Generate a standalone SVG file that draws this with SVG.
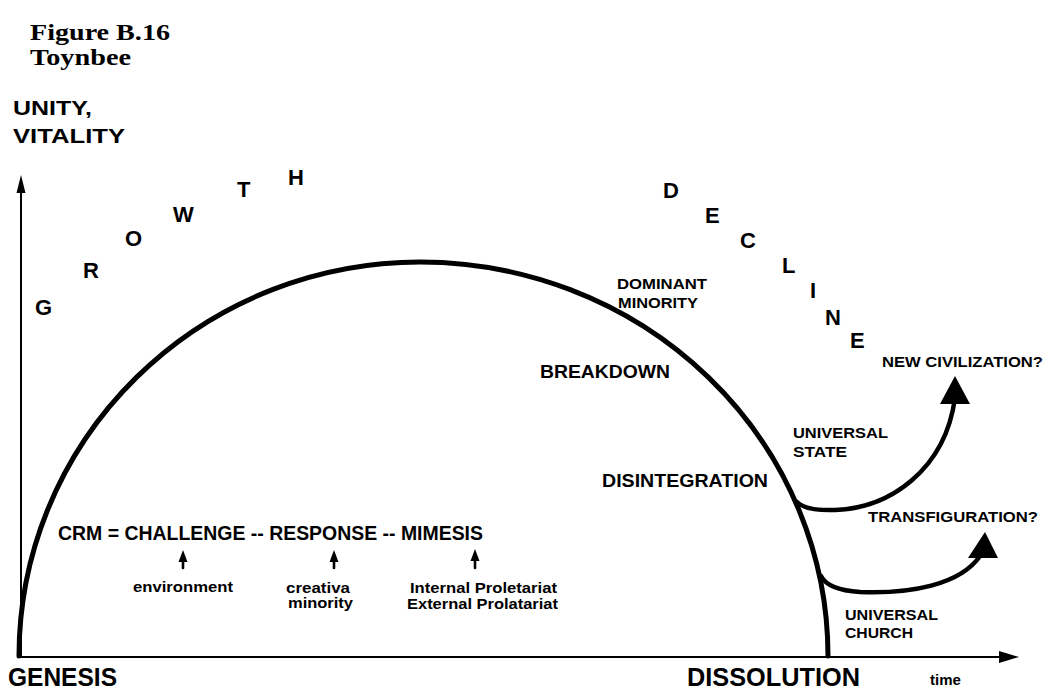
<svg xmlns="http://www.w3.org/2000/svg" width="1045" height="689" viewBox="0 0 1045 689">
<style>
.s{font-family:"Liberation Sans",Arial,sans-serif;font-weight:bold;fill:#000}
.t{font-family:"Liberation Serif","Times New Roman",serif;font-weight:bold;fill:#000}
.big{font-size:22px}
.lab{font-size:15.5px}
.sm{font-size:14px}
.ln{fill:none;stroke:#000;stroke-linecap:round;stroke-linejoin:round}
.sub{stroke-width:2.6}
</style>
<rect width="1045" height="689" fill="#fff"/>

<g id="title">
<text class="t" x="30" y="40" font-size="24" textLength="140" lengthAdjust="spacingAndGlyphs">Figure B.16</text>
<text class="t" x="30" y="65" font-size="24" textLength="101" lengthAdjust="spacingAndGlyphs">Toynbee</text>
</g>

<g id="axes">
<line class="ln" x1="21" y1="657" x2="21" y2="190" stroke-width="2"/>
<polygon points="21,175 16.5,193 25.5,193" fill="#000"/>
<line class="ln" x1="18" y1="657" x2="1004" y2="657" stroke-width="2"/>
<polygon points="1019,657 999,651 999,663" fill="#000"/>
</g>

<g id="y-label">
<text class="s" x="13" y="115" font-size="20" textLength="79" lengthAdjust="spacingAndGlyphs">UNITY,</text>
<text class="s" x="13" y="143" font-size="20" textLength="112" lengthAdjust="spacingAndGlyphs">VITALITY</text>
</g>

<g id="growth" class="s big">
<text x="35" y="315">G</text>
<text x="83" y="278">R</text>
<text x="125" y="246">O</text>
<text x="173" y="222">W</text>
<text x="237" y="197">T</text>
<text x="288" y="185">H</text>
</g>

<g id="decline" class="s big">
<text x="663" y="198">D</text>
<text x="705" y="223">E</text>
<text x="740" y="248">C</text>
<text x="782" y="273">L</text>
<text x="810" y="298">I</text>
<text x="825" y="325">N</text>
<text x="850" y="348">E</text>
</g>

<g id="connectors">
<path id="main-curve" class="ln" stroke-width="5" d="M19,656 A401,394 0 0 1 420,262 A408,394 0 0 1 828,656"/>
<path id="branch-state" class="ln" stroke-width="4.5" d="M797,502 Q806,511 835,510 C890,508 945,470 955,398"/>
<polygon points="955,376 940,404 970,404" fill="#000"/>
<path id="branch-church" class="ln" stroke-width="4.5" d="M821,576 Q828,590 860,592 C910,594 960,585 980,556"/>
<polygon points="985,532 968,558 998,558" fill="#000"/>
<g id="crm-arrows">
<line class="ln sub" x1="183" y1="568" x2="183" y2="557"/>
<polygon points="183,550 178.5,562 187.5,562" fill="#000"/>
<line class="ln sub" x1="334" y1="568" x2="334" y2="557"/>
<polygon points="334,550 329.5,562 338.5,562" fill="#000"/>
<line class="ln sub" x1="475" y1="568" x2="475" y2="557"/>
<polygon points="475,549 470.5,561 479.5,561" fill="#000"/>
</g>
</g>

<g id="genesis">
<text class="s" x="8" y="686" font-size="25" textLength="109" lengthAdjust="spacingAndGlyphs">GENESIS</text>
</g>
<g id="dissolution">
<text class="s" x="687" y="686" font-size="25" textLength="173" lengthAdjust="spacingAndGlyphs">DISSOLUTION</text>
</g>
<g id="time">
<text class="s" x="930" y="685" font-size="15">time</text>
</g>

<g id="dominant-minority" class="s lab">
<text x="617" y="289" textLength="90" lengthAdjust="spacingAndGlyphs">DOMINANT</text>
<text x="618" y="308" textLength="80" lengthAdjust="spacingAndGlyphs">MINORITY</text>
</g>
<g id="breakdown">
<text class="s" x="540" y="378" font-size="17.5" textLength="130" lengthAdjust="spacingAndGlyphs">BREAKDOWN</text>
</g>
<g id="disintegration">
<text class="s" x="602" y="487" font-size="18" textLength="166" lengthAdjust="spacingAndGlyphs">DISINTEGRATION</text>
</g>
<g id="universal-state" class="s lab">
<text x="793" y="438" textLength="95" lengthAdjust="spacingAndGlyphs">UNIVERSAL</text>
<text x="793" y="457" textLength="54" lengthAdjust="spacingAndGlyphs">STATE</text>
</g>
<g id="new-civilization">
<text class="s lab" x="882" y="367" textLength="161" lengthAdjust="spacingAndGlyphs">NEW CIVILIZATION?</text>
</g>
<g id="transfiguration">
<text class="s lab" x="868" y="522" textLength="170" lengthAdjust="spacingAndGlyphs">TRANSFIGURATION?</text>
</g>
<g id="universal-church" class="s lab">
<text x="845" y="620" textLength="93" lengthAdjust="spacingAndGlyphs">UNIVERSAL</text>
<text x="845" y="638" textLength="68" lengthAdjust="spacingAndGlyphs">CHURCH</text>
</g>

<g id="crm">
<text class="s" x="58" y="540" font-size="19.5" textLength="425" lengthAdjust="spacingAndGlyphs">CRM = CHALLENGE -- RESPONSE -- MIMESIS</text>
</g>
<g id="environment">
<text class="s sm" x="133" y="592" textLength="100" lengthAdjust="spacingAndGlyphs">environment</text>
</g>
<g id="creative-minority" class="s sm">
<text x="286" y="593" textLength="64" lengthAdjust="spacingAndGlyphs">creativa</text>
<text x="288" y="608" textLength="65" lengthAdjust="spacingAndGlyphs">minority</text>
</g>
<g id="proletariat" class="s sm">
<text x="410" y="593" textLength="147" lengthAdjust="spacingAndGlyphs">Internal Proletariat</text>
<text x="407" y="609" textLength="151" lengthAdjust="spacingAndGlyphs">External Prolatariat</text>
</g>
</svg>
